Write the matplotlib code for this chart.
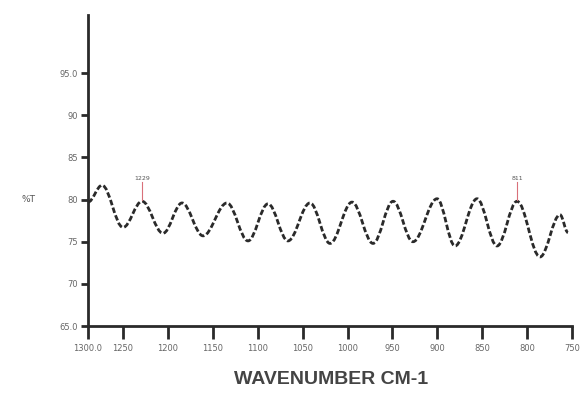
import matplotlib
matplotlib.use("Agg")
import matplotlib.pyplot as plt
from matplotlib.path import Path
from matplotlib.patches import PathPatch

# turning points of the trace (wavenumber, %T)
wavenumber = [1289, 1273.4, 1250, 1228.8, 1205.5, 1184.3, 1160.9, 1134.2,
              1110.8, 1088.5, 1066.3, 1041.8, 1019.5, 995.0, 971.6, 949.3,
              927.1, 900.3, 880.3, 855.8, 833.5, 811.2, 785.6, 763.4, 754.5]
transmittance = [79.7, 81.7, 76.7, 79.8, 76.0, 79.6, 75.7, 79.6,
                 75.1, 79.5, 75.1, 79.6, 74.8, 79.7, 74.8, 79.8,
                 75.0, 80.1, 74.5, 80.1, 74.5, 79.8, 73.2, 78.2, 76.1]

peak_x = [1228.8, 811.2]
peak_y = [79.8, 79.8]
peak_labels = ["1229", "811"]

xtick_vals = [1289, 1250, 1200, 1150, 1100, 1050, 1000, 950, 900, 850, 800, 750]
xtick_labels = ["1300.0", "1250", "1200", "1150", "1100", "1050", "1000",
                "950", "900", "850", "800", "750"]
ytick_vals = [65, 70, 75, 80, 85, 90, 95]
ytick_labels = ["65.0", "70", "75", "80", "85", "90", "95.0"]

fig = plt.figure(figsize=(5.84, 3.97), dpi=100)
ax = fig.add_axes([0.1507, 0.1788, 0.8288, 0.7834])

# smooth trace: cubic segments with flat tangents at each turning point
verts = [(wavenumber[0], transmittance[0])]
codes = [Path.MOVETO]
for i in range(len(wavenumber) - 1):
    x0, y0 = wavenumber[i], transmittance[i]
    x1, y1 = wavenumber[i + 1], transmittance[i + 1]
    d = (x1 - x0) * 0.364
    verts += [(x0 + d, y0), (x1 - d, y1), (x1, y1)]
    codes += [Path.CURVE4] * 3
ax.add_patch(PathPatch(Path(verts, codes), fill=False, edgecolor="#2a2a2a",
                       lw=2.0, linestyle=(0, (2.0, 0.9))))

for px, py, lab in zip(peak_x, peak_y, peak_labels):
    ax.plot([px, px], [py + 0.1, py + 2.3], color="#d9707a", lw=0.8)
    ax.text(px, py + 2.4, lab, fontsize=4.5, color="#555555",
            ha="center", va="bottom")

ax.set_xlim(1289, 750)
ax.set_ylim(65, 101.9)
ax.set_xticks(xtick_vals)
ax.set_xticklabels(xtick_labels)
ax.set_yticks(ytick_vals)
ax.set_yticklabels(ytick_labels)

for s in ["top", "right"]:
    ax.spines[s].set_visible(False)
for s in ["left", "bottom"]:
    ax.spines[s].set_linewidth(2)
    ax.spines[s].set_color("#2a2a2a")

ax.tick_params(axis="x", length=9, width=2, color="#2a2a2a",
               labelsize=6, labelcolor="#666666", pad=4)
ax.tick_params(axis="y", length=5, width=2, color="#2a2a2a",
               labelsize=6, labelcolor="#666666", pad=2)

fig.text(28 / 584, 1 - 200 / 397, "%T", fontsize=6.5, color="#555555",
         ha="center", va="center")
fig.text(331 / 584, 1 - 380 / 397, "WAVENUMBER CM-1", fontsize=14,
         fontweight="bold", color="#444444", family="Liberation Sans",
         ha="center", va="center")

fig.savefig("out.png", dpi=100)
